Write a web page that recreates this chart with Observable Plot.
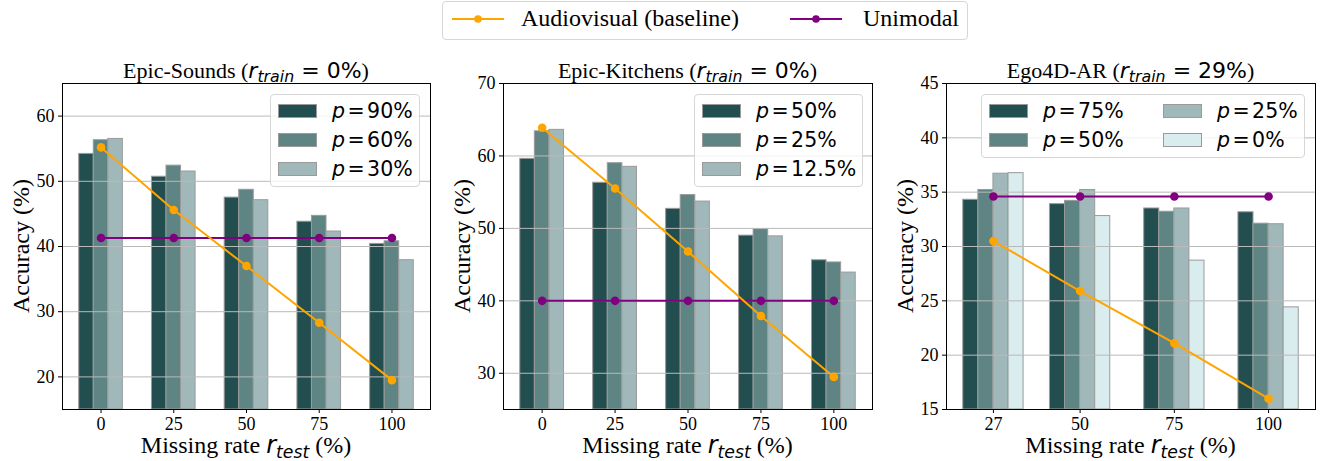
<!DOCTYPE html>
<html><head><meta charset="utf-8">
<script src="https://cdn.jsdelivr.net/npm/d3@7"></script>
<script src="https://cdn.jsdelivr.net/npm/@observablehq/plot@0.6"></script>
<style>
body{margin:0;background:#fff;}
#page{position:relative;width:1326px;height:461px;overflow:hidden;font-family:"Liberation Serif",serif;color:#000;}
.abs{position:absolute;}
.m{font-family:"DejaVu Sans",sans-serif;}
.mi{font-family:"DejaVu Sans",sans-serif;font-style:italic;}
.sub{font-family:"DejaVu Sans",sans-serif;font-style:italic;font-size:0.72em;position:relative;top:0.28em;line-height:0;}
.ttl{font-size:22px;line-height:24px;white-space:nowrap;transform:translateX(-50%);}
.xl{font-size:24px;line-height:24px;white-space:nowrap;transform:translateX(-50%);}
.yl{font-size:24px;line-height:24px;white-space:nowrap;transform:translate(-50%,-50%) rotate(-90deg);}
.leg{background:rgba(255,255,255,0.8);border:1px solid #d6d6d6;border-radius:4px;box-sizing:border-box;}
.sw{position:absolute;width:39px;height:14px;box-sizing:border-box;border:1px solid #9a9a9a;}
.lt{position:absolute;font-family:"DejaVu Sans",sans-serif;font-size:20.5px;line-height:22px;white-space:nowrap;}
.eq{margin:0 0.12em;}
.top{position:absolute;font-size:24px;line-height:24px;white-space:nowrap;}
</style></head>
<body><div id="page"></div>
<script>
// ---------- data ----------
const esRates = [0, 25, 50, 75, 100];
const esLabels = ["90%", "60%", "30%"];
const esP90 = [54.2, 50.7, 47.5, 43.8, 40.4];
const esP60 = [56.3, 52.4, 48.7, 44.7, 40.8];
const esP30 = [56.5, 51.5, 47.1, 42.3, 37.9];
const esAV  = [55.2, 45.6, 37.0, 28.3, 19.5];
const esUni = [41.3, 41.3, 41.3, 41.3, 41.3];
const esYTicks = [20, 30, 40, 50, 60];

const ekRates = [0, 25, 50, 75, 100];
const ekLabels = ["50%", "25%", "12.5%"];
const ekP50  = [59.6, 56.3, 52.7, 49.0, 45.6];
const ekP25  = [63.4, 59.0, 54.6, 49.9, 45.3];
const ekP125 = [63.6, 58.5, 53.7, 48.9, 43.9];
const ekAV   = [63.9, 55.5, 46.8, 37.9, 29.5];
const ekUni  = [40.0, 40.0, 40.0, 40.0, 40.0];
const ekYTicks = [30, 40, 50, 60, 70];

const egRates = [27, 50, 75, 100];
const egLabels = ["75%", "50%", "25%", "0%"];
const egP75 = [34.3, 33.9, 33.5, 33.15];
const egP50 = [35.2, 34.2, 33.2, 32.1];
const egP25 = [36.7, 35.2, 33.5, 32.05];
const egP0  = [36.75, 32.8, 28.7, 24.4];
const egAV  = [30.5, 25.9, 21.1, 16.0];
const egUni = [34.6, 34.6, 34.6, 34.6];
const egYTicks = [15, 20, 25, 30, 35, 40, 45];

const legendNames = ["Audiovisual (baseline)", "Unimodal"];

// ---------- styles ----------
const barColors = ["#224e50", "#5e8484", "#a0b8ba", "#d9ecee"];
const avColor = "#ffa500", uniColor = "#800080";

const page = document.getElementById("page");

function panel(cfg) {
  const marks = [];
  cfg.series.forEach((vals, si) => {
    const rows = vals.map((v, i) => ({r: cfg.rates[i], v}));
    marks.push(Plot.rectY(rows, {
      x1: d => d.r + cfg.offsets[si] - cfg.barW / 2,
      x2: d => d.r + cfg.offsets[si] + cfg.barW / 2,
      y1: cfg.yDomain[0], y2: "v",
      fill: barColors[si], stroke: "#9a9a9a", strokeWidth: 1
    }));
  });
  marks.push(Plot.gridY(cfg.yTicks, {stroke: "#b9b9b9", strokeOpacity: 1, strokeWidth: 1}));
  const av = cfg.av.map((v, i) => ({r: cfg.rates[i], v}));
  const uni = cfg.uni.map((v, i) => ({r: cfg.rates[i], v}));
  marks.push(
    Plot.line(uni, {x: "r", y: "v", stroke: uniColor, strokeWidth: 2}),
    Plot.dot(uni, {x: "r", y: "v", fill: uniColor, r: 4.3}),
    Plot.line(av, {x: "r", y: "v", stroke: avColor, strokeWidth: 2}),
    Plot.dot(av, {x: "r", y: "v", fill: avColor, r: 4.3}),
    Plot.axisY(cfg.yTicks, {tickSize: 4, tickPadding: 4, label: null, fontSize: 18, stroke: "#000"}),
    Plot.axisX(cfg.rates, {tickSize: 4, tickPadding: 4, label: null, fontSize: 18, stroke: "#000"}),
    Plot.frame({stroke: "#000", strokeWidth: 1})
  );
  const svg = Plot.plot({
    width: cfg.width, height: 411,
    marginLeft: cfg.mL, marginRight: cfg.mR, marginTop: 33, marginBottom: 52,
    x: {type: "linear", domain: cfg.xDomain},
    y: {domain: cfg.yDomain},
    style: {fontFamily: "'Liberation Serif', serif", fontSize: "18px", color: "#000", background: "transparent", overflow: "visible"},
    marks
  });
  const wrap = document.createElement("div");
  wrap.className = "abs";
  wrap.style.left = cfg.left + "px";
  wrap.style.top = "50px";
  wrap.appendChild(svg);
  page.appendChild(wrap);

  const cx = cfg.left + cfg.mL + (cfg.width - cfg.mL - cfg.mR) / 2;
  // title
  const t = document.createElement("div");
  t.className = "abs ttl";
  t.style.left = cx + "px"; t.style.top = "59px";
  t.innerHTML = `${cfg.name} (<span class="mi">r</span><span class="sub">train</span><span class="m"> = ${cfg.rtrain}</span>)`;
  page.appendChild(t);
  // x label
  const xl = document.createElement("div");
  xl.className = "abs xl";
  xl.style.left = cx + "px"; xl.style.top = "433px";
  xl.innerHTML = `Missing rate <span class="mi">r</span><span class="sub">test</span> (%)`;
  page.appendChild(xl);
  // y label
  const yl = document.createElement("div");
  yl.className = "abs yl";
  yl.style.left = (cfg.left + cfg.mL - 41) + "px"; yl.style.top = "246px";
  yl.textContent = "Accuracy (%)";
  page.appendChild(yl);
  // inner legend
  const lg = document.createElement("div");
  lg.className = "abs leg";
  Object.assign(lg.style, {left: cfg.leg.x + "px", top: cfg.leg.y + "px", width: cfg.leg.w + "px", height: cfg.leg.h + "px"});
  cfg.labels.forEach((lab, i) => {
    const col = Math.floor(i / cfg.leg.rows), row = i % cfg.leg.rows;
    const sw = document.createElement("div");
    sw.className = "sw";
    Object.assign(sw.style, {left: (7 + col * cfg.leg.colW) + "px", top: (8.5 + row * 29.3) + "px", background: barColors[i]});
    lg.appendChild(sw);
    const tx = document.createElement("div");
    tx.className = "lt";
    Object.assign(tx.style, {left: (61 + col * cfg.leg.colW) + "px", top: (4.5 + row * 29.3) + "px"});
    tx.innerHTML = `<i>p</i><span class="eq">=</span>${lab}`;
    lg.appendChild(tx);
  });
  page.appendChild(lg);
}

panel({name: "Epic-Sounds", rtrain: "0%", rates: esRates, series: [esP90, esP60, esP30], labels: esLabels,
  av: esAV, uni: esUni, yDomain: [15, 65], yTicks: esYTicks, xDomain: [-13.25, 113.25], barW: 5, offsets: [-5, 0, 5],
  width: 440, left: 0, mL: 62, mR: 10,
  leg: {x: 270, y: 94, w: 150, h: 93, rows: 3, colW: 0}});
panel({name: "Epic-Kitchens", rtrain: "0%", rates: ekRates, series: [ekP50, ekP25, ekP125], labels: ekLabels,
  av: ekAV, uni: ekUni, yDomain: [25, 70], yTicks: ekYTicks, xDomain: [-13.25, 113.25], barW: 5, offsets: [-5, 0, 5],
  width: 440, left: 440, mL: 63, mR: 8,
  leg: {x: 694, y: 94, w: 169, h: 93, rows: 3, colW: 0}});
panel({name: "Ego4D-AR", rtrain: "29%", rates: egRates, series: [egP75, egP50, egP25, egP0], labels: egLabels,
  av: egAV, uni: egUni, yDomain: [15, 45], yTicks: egYTicks, xDomain: [14.55, 112.45], barW: 4, offsets: [-6, -2, 2, 6],
  width: 446, left: 880, mL: 66, mR: 11,
  leg: {x: 981, y: 94, w: 324, h: 64, rows: 2, colW: 174}});

// top legend
const tl = document.createElement("div");
tl.className = "abs leg";
Object.assign(tl.style, {left: "442px", top: "1px", width: "526px", height: "39px", background: "#fff"});
const items = [[legendNames[0], avColor, 9, 78], [legendNames[1], uniColor, 347, 420]];
items.forEach(([name, color, lx, tx]) => {
  const s = document.createElementNS("http://www.w3.org/2000/svg", "svg");
  s.setAttribute("width", 52); s.setAttribute("height", 12);
  s.style.position = "absolute"; s.style.left = lx + "px"; s.style.top = "10.5px";
  s.innerHTML = `<line x1="0" x2="52" y1="6" y2="6" stroke="${color}" stroke-width="2"/><circle cx="26" cy="6" r="3.8" fill="${color}"/>`;
  tl.appendChild(s);
  const t = document.createElement("div");
  t.className = "top"; t.style.left = tx + "px"; t.style.top = "4px";
  t.textContent = name;
  tl.appendChild(t);
});
page.appendChild(tl);
</script>
</body></html>
